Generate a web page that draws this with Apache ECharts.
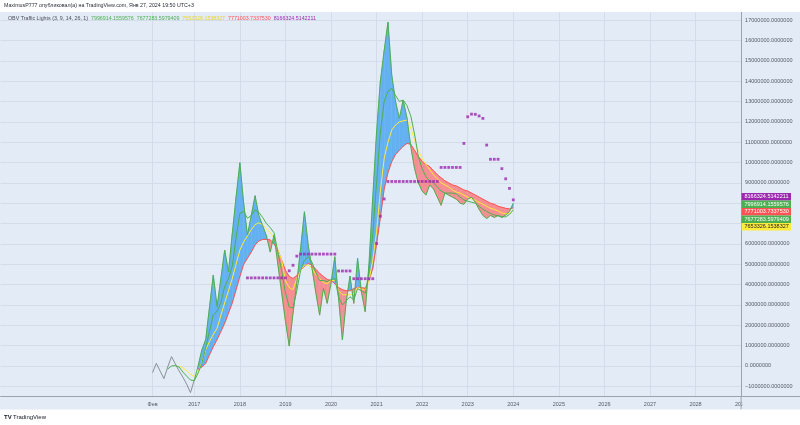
<!DOCTYPE html>
<html><head><meta charset="utf-8">
<script src="https://cdn.jsdelivr.net/npm/echarts@6/dist/echarts.min.js"></script>
<style>html,body{margin:0;padding:0;background:#fff}#c{width:800px;height:425px}</style>
</head><body><div id="c"></div>
<script>
// ---------- DATA (values in millions) ----------
const dataStart = '2016-02';           // first month with data (monthly bars)
const axisFirst = [2012, 10];           // first month on the time axis
const axisLast  = [2029, 1];            // last month on the time axis
const tickMonths = ['2016-02','2017-01','2018-01','2019-01','2020-01','2021-01','2022-01','2023-01','2024-01','2025-01','2026-01','2027-01','2028-01','2029-01'];
const tickLabels = ['Фев','2017','2018','2019','2020','2021','2022','2023','2024','2025','2026','2027','2028','2029'];
const yTicks = [-1,0,1,2,3,4,5,6,7,8,9,10,11,12,13,14,15,16,17];

const obv = [
 -0.33, 0.13, -0.25, -0.62, -0.05, 0.46, 0.1, -0.25, -0.55, -0.9, -1.31,
 -0.69, 0.0, 0.8, 1.3, 2.9, 4.47, 2.92, 4.3, 5.7, 4.63, 6.5, 8.3,
 9.99, 8.0, 6.44, 7.4, 8.37, 7.4, 6.9, 6.4, 5.6, 6.44, 5.0, 3.6,
 2.2, 0.98, 2.6, 4.1, 5.8, 7.58, 5.95, 4.8, 3.6, 2.5, 3.82, 3.08,
 4.06, 5.37, 3.3, 1.28, 3.16, 4.42, 3.08, 5.29, 3.65, 2.67, 5.0, 8.3,
 11.5, 14.0, 15.5, 16.9, 14.3, 13.0, 12.17, 13.07, 12.2, 10.8, 9.7, 9.0,
 8.6, 8.4, 8.9, 8.7, 8.3, 7.9, 8.5, 8.4, 8.3, 8.2, 8.0, 7.95,
 8.2, 8.3, 8.05, 7.7, 7.4, 7.25, 7.4, 7.3, 7.4, 7.3, 7.42, 7.6, 7.997
];
const ma9 = [
 null, null, null, null, -0.15, 0.0, 0.02, -0.05, -0.3, -0.5, -0.69,
 -0.72, -0.35, 0.13, 0.9, 1.7, 2.5, 2.7, 3.1, 3.9, 4.3, 4.9, 6.3,
 7.5, 7.6, 7.26, 7.4, 7.67, 7.55, 7.3, 7.0, 6.8, 6.55, 5.6, 4.7,
 3.6, 2.9, 2.85, 3.7, 4.7, 5.2, 5.37, 5.1, 4.6, 4.2, 4.2, 4.15,
 4.25, 4.3, 3.4, 3.0, 3.2, 3.4, 3.25, 3.8, 3.7, 3.57, 4.6, 6.5,
 9.0, 11.5, 13.0, 13.5, 13.65, 13.3, 13.0, 13.07, 12.8, 12.3, 11.4, 10.3,
 9.7, 9.3, 9.1, 9.0, 8.8, 8.6, 8.5, 8.5, 8.5, 8.45, 8.3, 8.16,
 8.1, 8.05, 8.0, 7.85, 7.7, 7.6, 7.5, 7.42, 7.38, 7.34, 7.33, 7.45, 7.677
];
const ma14 = [
 null, null, null, null, null, null, null, 0.0, -0.1, -0.23, -0.4,
 -0.52, -0.36, 0.2, 0.79, 1.2, 1.55, 1.85, 2.5, 3.1, 3.7, 4.3, 5.0,
 5.7, 6.1, 6.4, 6.7, 6.95, 7.04, 6.93, 6.75, 6.55, 6.3, 5.7, 5.2,
 4.2, 3.85, 3.75, 4.3, 4.7, 4.96, 4.95, 4.8, 4.5, 4.3, 4.1, 4.05,
 4.2, 4.2, 3.7, 3.5, 3.5, 3.5, 3.55, 3.85, 3.8, 3.73, 4.2, 5.2,
 6.6, 8.6, 10.2, 11.0, 11.6, 11.85, 12.0, 12.05, 12.09, 11.7, 11.1, 10.6,
 10.2, 9.9, 9.65, 9.4, 9.2, 9.0, 8.9, 8.8, 8.65, 8.55, 8.5, 8.4,
 8.3, 8.2, 8.15, 8.05, 7.95, 7.85, 7.75, 7.7, 7.62, 7.52, 7.48, 7.5, 7.653
];
const ma26 = [
 null, null, null, null, null, null, null, null, null, null, null,
 null, -0.16, -0.05, 0.13, 0.55, 0.95, 1.3, 1.7, 2.1, 2.6, 3.1, 3.75,
 4.4, 5.0, 5.3, 5.6, 5.95, 6.15, 6.22, 6.22, 6.2, 6.0, 5.7, 5.2,
 4.7, 4.4, 4.3, 4.45, 4.7, 4.9, 5.05, 4.95, 4.75, 4.55, 4.4, 4.25,
 4.2, 4.05, 3.85, 3.75, 3.7, 3.7, 3.8, 3.87, 3.85, 3.82, 4.2, 4.8,
 6.0, 7.3, 8.7, 9.5, 10.05, 10.4, 10.6, 10.8, 10.94, 10.9, 10.6, 10.3,
 10.05, 9.9, 9.8, 9.6, 9.4, 9.25, 9.1, 9.0, 8.9, 8.85, 8.75, 8.65,
 8.6, 8.5, 8.4, 8.3, 8.2, 8.1, 8.0, 7.95, 7.85, 7.8, 7.75, 7.72, 7.771
];
const signal = [
 null, null, null, null, null, null, null, null, null, null, null,
 null, null, null, null, null, null, null, null, null, null, null, null,
 null, null, 4.33, 4.33, 4.33, 4.33, 4.33, 4.33, 4.33, 4.33, 4.33, 4.33,
 4.33, 4.68, 4.95, 5.4, 5.5, 5.5, 5.5, 5.5, 5.5, 5.5, 5.5, 5.5,
 5.5, 5.5, 4.67, 4.67, 4.67, 4.67, 4.29, 4.29, 4.29, 4.29, 4.29, 4.29,
 6.02, 7.36, 8.21, 9.07, 9.07, 9.07, 9.07, 9.07, 9.07, 9.07, 9.07, 9.07,
 9.07, 9.07, 9.07, 9.07, 9.07, 9.76, 9.76, 9.76, 9.76, 9.76, 9.76, 10.94,
 12.25, 12.38, 12.37, 12.29, 12.17, 10.86, 10.16, 10.16, 10.16, 9.7, 9.2, 8.73, 8.166
];
const legendTitle = 'OBV Traffic Lights (3, 9, 14, 26, 1)';
const lastLabels = { obv: '7996914.1559576', ma9: '7677283.5979409', ma14: '7653326.1538327', ma26: '7771003.7337530', signal: '8166324.5142211' };
const headerText = 'MaximusP777 опубликовал(а) на TradingView.com, Янв 27, 2024 19:50 UTC+3';

// ---------- STYLE ----------
const BG = '#e3ebf6', GRID = '#d3dce8', AXIS = '#9aa3ae', TXT = '#555b66';
const GREEN = '#4caf50', YELLOW = '#ffeb3b', RED = '#ff5252', PURPLE = '#9c27b0', GREY = '#8a8f98';
const FILL_UP = '#64b1f2', FILL_DN = '#f48e92';
const FONT = '"Liberation Sans", Arial, sans-serif';

// ---------- BUILD ----------
const months = [];
{ let y = axisFirst[0], m = axisFirst[1];
  while (y < axisLast[0] || (y === axisLast[0] && m <= axisLast[1])) {
    months.push(y + '-' + String(m).padStart(2, '0'));
    m++; if (m > 12) { m = 1; y++; }
  } }
const off = months.indexOf(dataStart);
const pad = arr => months.map((_, i) => { const k = i - off; return (k >= 0 && k < arr.length) ? arr[k] : null; });
const split = months.indexOf('2017-01') - off;
const obvGrey = obv.map((v, k) => k <= split ? v : null);
const obvGreen = obv.map((v, k) => k >= split ? v : null);
const labelMap = {}; tickMonths.forEach((m, i) => labelMap[m] = tickLabels[i]);
const showTick = (i, v) => labelMap[v] !== undefined;

const fillItems = [];
for (let k = 0; k + 1 < obv.length; k++) {
  if ([obv[k], ma26[k], obv[k + 1], ma26[k + 1]].every(v => v !== null))
    fillItems.push([off + k, obv[k], ma26[k], obv[k + 1], ma26[k + 1]]);
}
const fmt = v => { const n = Math.round(v * 1e6); return (n < 0 ? '\u2212' : '') + Math.abs(n).toFixed(7); };

const line = (name, data, color, z) => ({ name, type: 'line', data: pad(data), symbol: 'none', z,
  lineStyle: { color, width: 1 }, itemStyle: { color }, connectNulls: false, silent: true });

const chart = echarts.init(document.getElementById('c'), null, { renderer: 'canvas' });
chart.setOption({
  animation: false,
  backgroundColor: BG,
  textStyle: { fontFamily: FONT },
  grid: { left: 0.65, right: 58.9, top: 12, bottom: 28.5, containLabel: false },
  xAxis: {
    type: 'category', data: months, boundaryGap: false,
    axisLine: { show: true, onZero: false, lineStyle: { color: AXIS, width: 1 } },
    axisTick: { show: false },
    axisLabel: { interval: showTick, formatter: v => labelMap[v] || '', fontSize: 5.5, color: TXT, margin: 5, fontFamily: FONT },
    splitLine: { show: true, interval: showTick, lineStyle: { color: GRID, width: 1 } }
  },
  yAxis: {
    type: 'value', position: 'right', min: -1.5, max: 17.4,
    axisLine: { show: true, lineStyle: { color: AXIS, width: 1 } },
    axisTick: { show: false, customValues: yTicks },
    axisLabel: { customValues: yTicks, formatter: fmt, fontSize: 5.5, color: TXT, margin: 4, align: 'left', fontFamily: FONT },
    splitLine: { show: true, lineStyle: { color: GRID, width: 1 } }
  },
  series: [
    { type: 'custom', name: 'fill', z: 1, silent: true, data: fillItems,
      encode: { x: 0, y: [1, 2, 3, 4] },
      renderItem(params, api) {
        const i = api.value(0);
        const s0 = api.value(1), r0 = api.value(2), s1 = api.value(3), r1 = api.value(4);
        const A0 = api.coord([i, s0]), B0 = api.coord([i, r0]);
        const A1 = api.coord([i + 1, s1]), B1 = api.coord([i + 1, r1]);
        const d0 = s0 - r0, d1 = s1 - r1;
        const poly = (pts, c) => ({ type: 'polygon', shape: { points: pts }, style: { fill: c, stroke: c, lineWidth: 0.5 } });
        if (d0 * d1 >= 0) return poly([A0, A1, B1, B0], (d0 + d1) >= 0 ? FILL_UP : FILL_DN);
        const t = d0 / (d0 - d1);
        const P = [A0[0] + t * (A1[0] - A0[0]), A0[1] + t * (A1[1] - A0[1])];
        return { type: 'group', children: [poly([A0, P, B0], d0 > 0 ? FILL_UP : FILL_DN), poly([P, A1, B1], d1 > 0 ? FILL_UP : FILL_DN)] };
      } },
    line('obvGrey', obvGrey, GREY, 3),
    line('ma26', ma26, RED, 3),
    line('ma14', ma14, YELLOW, 4),
    line('ma9', ma9, GREEN, 5),
    line('obv', obvGreen, GREEN, 6),
    { name: 'signal', type: 'scatter', data: pad(signal), symbol: 'rect', symbolSize: 2.8, z: 7, silent: true,
      itemStyle: { color: PURPLE } }
  ]
});

// ---------- overlays: header, legend, footer, price tags ----------
const g = [];
g.push({ type: 'rect', shape: { x: 0, y: 0, width: 800, height: 12 }, style: { fill: '#fff' }, z: 100 });
g.push({ type: 'rect', shape: { x: 0, y: 409.5, width: 800, height: 16 }, style: { fill: '#fff' }, z: 100 });
g.push({ type: 'rect', shape: { x: 742.3, y: 397.5, width: 60, height: 11.5 }, style: { fill: BG }, z: 90 });
g.push({ type: 'line', shape: { x1: 741.1, y1: 396, x2: 741.1, y2: 409.5 }, style: { stroke: AXIS, lineWidth: 1 }, z: 95 });
g.push({ type: 'line', shape: { x1: 741, y1: 396.5, x2: 800, y2: 396.5 }, style: { stroke: AXIS, lineWidth: 1 }, z: 95 });
g.push({ type: 'text', x: 4, y: 6, z: 101, style: { text: headerText, fontSize: 5.3, fill: '#2a2e39', fontFamily: FONT, verticalAlign: 'middle' } });
g.push({ type: 'text', x: 8, y: 18.5, z: 101, style: {
  text: '{t|' + legendTitle + '}  {a|' + lastLabels.obv + '}  {b|' + lastLabels.ma9 + '}  {c|' + lastLabels.ma14 + '}  {d|' + lastLabels.ma26 + '}  {e|' + lastLabels.signal + '}',
  fontSize: 5.3, fontFamily: FONT, verticalAlign: 'middle',
  rich: { t: { fill: '#4a4f5a', fontSize: 5.3 }, a: { fill: GREEN, fontSize: 5.3 }, b: { fill: GREEN, fontSize: 5.3 }, c: { fill: '#e8d42a', fontSize: 5.3 }, d: { fill: RED, fontSize: 5.3 }, e: { fill: PURPLE, fontSize: 5.3 } } } });
g.push({ type: 'text', x: 4, y: 417.5, z: 101, style: { text: 'TV', fontSize: 6, fontWeight: 'bold', fill: '#131722', fontFamily: FONT, verticalAlign: 'middle' } });
g.push({ type: 'text', x: 13, y: 417.5, z: 101, style: { text: 'TradingView', fontSize: 6, fill: '#131722', fontFamily: FONT, verticalAlign: 'middle' } });

const tags = [
  { v: signal[signal.length - 1], c: PURPLE, t: '#fff', s: lastLabels.signal },
  { v: obv[obv.length - 1], c: GREEN, t: '#fff', s: lastLabels.obv },
  { v: ma26[ma26.length - 1], c: RED, t: '#fff', s: lastLabels.ma26 },
  { v: ma9[ma9.length - 1], c: GREEN, t: '#fff', s: lastLabels.ma9 },
  { v: ma14[ma14.length - 1], c: YELLOW, t: '#222', s: lastLabels.ma14 }
].sort((a, b) => b.v - a.v);
const H = 7.5;
let prev = -1e9;
tags.forEach((tg, i) => {
  const y = chart.convertToPixel({ yAxisIndex: 0 }, tg.v);
  const cy = i === 0 ? y - 3 : Math.max(y, prev + H);
  prev = cy;
  g.push({ type: 'rect', shape: { x: 741.6, y: cy - H / 2, width: 49.4, height: H }, style: { fill: tg.c }, z: 96 });
  g.push({ type: 'text', x: 744.5, y: cy, z: 97, style: { text: tg.s, fontSize: 5.5, fill: tg.t, fontFamily: FONT, verticalAlign: 'middle' } });
});
chart.setOption({ graphic: { elements: g } });
</script></body></html>
